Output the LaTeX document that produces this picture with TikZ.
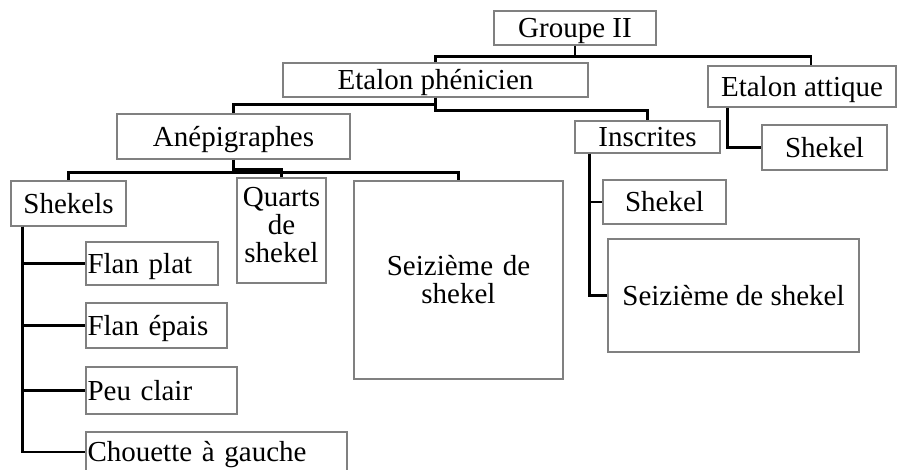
\documentclass[tikz,border=0pt]{standalone}
\usepackage{fontspec}
\setmainfont{Liberation Serif}
\definecolor{boxgray}{RGB}{128,128,128}
\newcommand{\bigfont}{\fontsize{29}{28}\selectfont}
\begin{document}
\begin{tikzpicture}[x=1pt,y=-1pt,
  boxbase/.style={draw=boxgray, line width=1.4pt, inner sep=0pt, font=\bigfont},
  box/.style={boxbase, text height=19.2pt, text depth=0pt},
  lbox/.style={box, align=left, inner xsep=1.5pt},
  conn/.style={line width=2.6pt, draw=black}]
\useasboundingbox[fill=white] (0,0) rectangle (902,470);

% nodes
\node[box, minimum width=162pt, minimum height=34pt] (g2) at (575,28) {Groupe II};
\node[box, minimum width=305pt, minimum height=34pt] (ep) at (435.5,80) {Etalon phénicien};
\node[box, minimum width=188pt, minimum height=41pt] (ea) at (802,86.5) {Etalon attique};
\node[box, minimum width=233pt, minimum height=45pt] (a) at (233.5,136.5) {Anépigraphes};
\node[box, minimum width=145pt, minimum height=32pt] (i) at (647.5,137) {Inscrites};
\node[box, minimum width=125pt, minimum height=45pt] (sa) at (824.5,147.5) {Shekel};
\node[box, minimum width=115pt, minimum height=45pt] (sk) at (68.5,203.5) {Shekels};
\node[boxbase, minimum width=89pt, minimum height=105pt,
  label={[font=\bigfont, align=center, inner sep=0pt, anchor=north, yshift=-10pt]north:Quarts\\de\\shekel}] (q) at (281.5,230.5) {};
\node[boxbase, minimum width=209pt, minimum height=198pt, text width=209pt, align=center] (s16a) at (458.5,280) {Seizième de\\shekel};
\node[box, minimum width=123pt, minimum height=44pt] (si) at (664.5,202) {Shekel};
\node[box, minimum width=251pt, minimum height=113pt] (s16b) at (733.5,295.5) {Seizième de shekel};
\node[lbox, text width=129pt, minimum height=43pt] (fp) at (152,263.5) {Flan plat};
\node[lbox, text width=138pt, minimum height=45pt] (fe) at (156.5,325.5) {Flan épais};
\node[lbox, text width=148pt, minimum height=47pt] (pc) at (161.5,390.5) {Peu clair};
\node[lbox, text width=258pt, minimum height=40pt] (cg) at (216.5,452) {Chouette à gauche};

% connectors
\draw[conn] (g2.south) -- ++(0,11) coordinate (g2j);
\draw[conn] (g2j) -| (ep.north);
\draw[conn] (g2j) -| ([xshift=9pt]ea.north);

\draw[conn] (ep.south) -- ++(0,7) -| (a.north);
\draw[conn] (ep.south) -- ++(0,13) -| (i.north);

\draw[conn] ([xshift=20pt]ea.south west) |- (sa.west);

\draw[conn] (a.south) -- ++(0,13) coordinate (aj);
\draw[conn] (aj) -| (sk.north);
\draw[conn] (aj) -| (s16a.north);
\draw[conn] (a.south) ++(0,10) -| (q.north);

\draw[conn] ([xshift=12pt]sk.south west) |- (cg.west);
\draw[conn] ([xshift=12pt]sk.south west) |- (fp.west);
\draw[conn] ([xshift=12pt]sk.south west) |- (fe.west);
\draw[conn] ([xshift=12pt]sk.south west) |- (pc.west);

\draw[conn] ([xshift=15pt]i.south west) |- (s16b.west);
\draw[conn] ([xshift=15pt]i.south west) |- (si.west);
\end{tikzpicture}
\end{document}
